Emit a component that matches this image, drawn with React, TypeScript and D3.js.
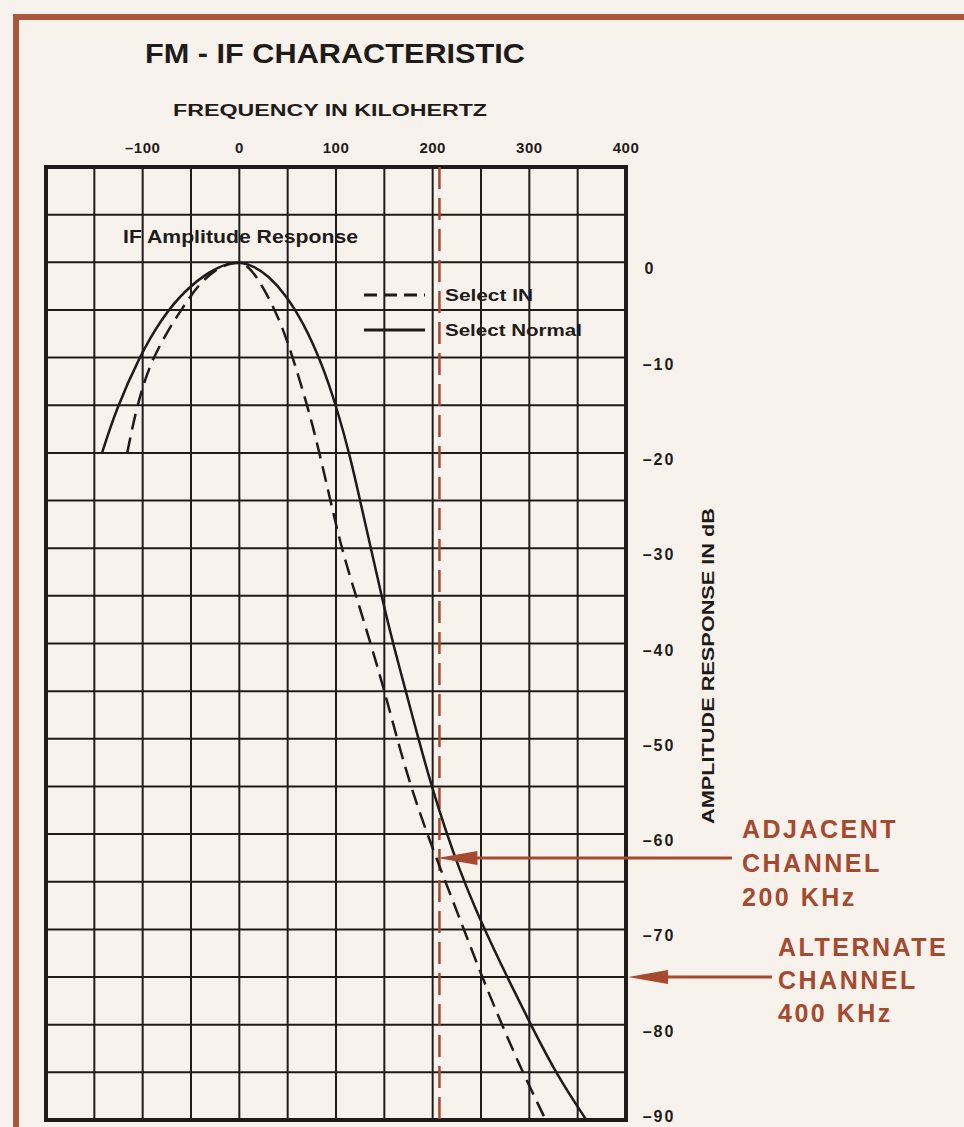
import React from 'react';
import * as d3 from 'd3';

// frequency grid (kHz) and response grid (dB)
const freqTicks = [-100, 0, 100, 200, 300, 400];
const dbTicks = [0, -10, -20, -30, -40, -50, -60, -70, -80, -90];

// Select Normal (solid) — [kHz, dB]
const normalKHz = [-142, -128, -104, -80, -55, -30, -12, 2, 15, 30, 48, 66, 85, 101, 115, 126, 137, 148, 160, 173, 186, 199, 213, 228, 244, 262, 280, 302, 328, 359];
const normalDb = [-20, -15.6, -10, -5.8, -2.8, -0.9, -0.1, 0, -0.4, -1.4, -3.4, -6.3, -10.5, -15.3, -20.5, -25.5, -30.4, -35.4, -40.4, -45.3, -50.3, -55, -59.5, -63.8, -67.8, -71.8, -75.6, -80.1, -85.2, -90];

// Select IN (dashed)
const selectInKHz = [-116, -107, -94, -76, -59, -42, -24, -8, 8, 26, 44, 60, 76, 92, 106, 122, 137, 151, 164, 178, 195, 214, 233, 252, 272, 294, 317];
const selectInDb = [-20, -15.5, -11, -7.5, -4.8, -2.3, -0.7, 0, 0, -2.8, -6.5, -11.5, -17, -24, -30.2, -35.4, -40.4, -45.3, -50.3, -55.2, -60.2, -65.2, -70.2, -75.2, -80.1, -85.2, -90];

// channel markers
const adjacentKHz = 207;
const adjacentDb = -62.5;
const alternateKHz = 400;
const alternateDb = -75;
const adjacentLabel = ['ADJACENT', 'CHANNEL', '200 KHz'];
const alternateLabel = ['ALTERNATE', 'CHANNEL', '400 KHz'];

const W = 964, H = 1127;
const INK = '#1f1b19';
const RUST = '#a5492f';
const FONT = '"Liberation Sans", Arial, sans-serif';

export default function App() {
  const x = d3.scaleLinear().domain([-200, 400]).range([46, 626]);
  const y = d3.scaleLinear().domain([10, -90]).range([167, 1120]);

  const line = d3.line<[number, number]>()
    .x(d => x(d[0]))
    .y(d => y(d[1]))
    .curve(d3.curveBasis);

  const normal = normalKHz.map((k, i) => [k, normalDb[i]] as [number, number]);
  const selectIn = selectInKHz.map((k, i) => [k, selectInDb[i]] as [number, number]);

  const vGrid = d3.range(-200, 401, 50);
  const hGrid = d3.range(10, -91, -5);

  const arrow = (tipX: number, yy: number, endX: number) => (
    <g>
      <line x1={tipX + 30} x2={endX} y1={yy} y2={yy} stroke={RUST} strokeWidth={3} />
      <path d={`M${tipX},${yy} L${tipX + 40},${yy - 7} L${tipX + 40},${yy + 7} Z`} fill={RUST} />
    </g>
  );

  return (
    <svg width={W} height={H} style={{ position: 'absolute', left: 0, top: 0 }} fontFamily={FONT}>
      <rect width={W} height={H} fill="#f8f2ec" />
      {/* page frame */}
      <line x1={13} x2={W} y1={17} y2={17} stroke="#a8573a" strokeWidth={6} />
      <line x1={16} x2={16} y1={14} y2={H} stroke="#a8573a" strokeWidth={6} />

      <text x={145} y={63} fontSize={28} fontWeight="bold" fill={INK} textLength={380} lengthAdjust="spacingAndGlyphs">FM - IF CHARACTERISTIC</text>
      <text x={173} y={116} fontSize={16} fontWeight="bold" fill={INK} textLength={314} lengthAdjust="spacingAndGlyphs">FREQUENCY IN KILOHERTZ</text>

      {freqTicks.map(t => (
        <text key={t} x={x(t)} y={153} fontSize={15} fontWeight="bold" fill={INK} textAnchor="middle" letterSpacing={0.5}>
          {t < 0 ? `–${-t}` : t}
        </text>
      ))}

      {/* grid */}
      {vGrid.map(v => (
        <line key={'v' + v} x1={x(v)} x2={x(v)} y1={y(10)} y2={y(-90)} stroke={INK} strokeWidth={2} />
      ))}
      {hGrid.map(v => (
        <line key={'h' + v} x1={x(-200)} x2={x(400)} y1={y(v)} y2={y(v)} stroke={INK} strokeWidth={2} />
      ))}
      <rect x={x(-200)} y={y(10)} width={x(400) - x(-200)} height={y(-90) - y(10)} fill="none" stroke={INK} strokeWidth={4} />

      {/* adjacent channel marker */}
      <line x1={x(adjacentKHz)} x2={x(adjacentKHz)} y1={y(10)} y2={y(-90)} stroke={RUST} strokeWidth={2.5} strokeDasharray="22 9" />

      {dbTicks.map(t => (
        <text key={t} x={t === 0 ? 650 : 659} y={Math.min(y(t) + 12, H - 5)} fontSize={16} fontWeight="bold" fill={INK} textAnchor="middle" letterSpacing={2}>
          {t < 0 ? `–${-t}` : t}
        </text>
      ))}
      <text transform={`translate(714,${666}) rotate(-90)`} fontSize={16} fontWeight="bold" fill={INK} textAnchor="middle" textLength={316} lengthAdjust="spacingAndGlyphs">AMPLITUDE RESPONSE IN dB</text>

      {/* curves */}
      <path d={line(normal) || ''} fill="none" stroke={INK} strokeWidth={2.5} />
      <path d={line(selectIn) || ''} fill="none" stroke={INK} strokeWidth={2.5} strokeDasharray="16 8" />

      {/* legend */}
      <text x={123} y={243} fontSize={18} fontWeight="bold" fill={INK} textLength={235} lengthAdjust="spacingAndGlyphs">IF Amplitude Response</text>
      <line x1={364} x2={425} y1={295} y2={295} stroke={INK} strokeWidth={3} strokeDasharray="13 7" />
      <text x={445} y={301} fontSize={16} fontWeight="bold" fill={INK} textLength={88} lengthAdjust="spacingAndGlyphs">Select IN</text>
      <line x1={364} x2={425} y1={330} y2={330} stroke={INK} strokeWidth={3} />
      <text x={445} y={336} fontSize={16} fontWeight="bold" fill={INK} textLength={137} lengthAdjust="spacingAndGlyphs">Select Normal</text>

      {/* annotations */}
      {arrow(x(adjacentKHz) - 2, y(adjacentDb), 732)}
      {arrow(x(alternateKHz) + 2, y(alternateDb), 772)}
      {adjacentLabel.map((s, i) => (
        <text key={s} x={742} y={838 + i * 34} fontSize={25} fontWeight="bold" fill={RUST} letterSpacing={2.5}>{s}</text>
      ))}
      {alternateLabel.map((s, i) => (
        <text key={s} x={778} y={956 + i * 33} fontSize={25} fontWeight="bold" fill={RUST} letterSpacing={2.5}>{s}</text>
      ))}
    </svg>
  );
}
